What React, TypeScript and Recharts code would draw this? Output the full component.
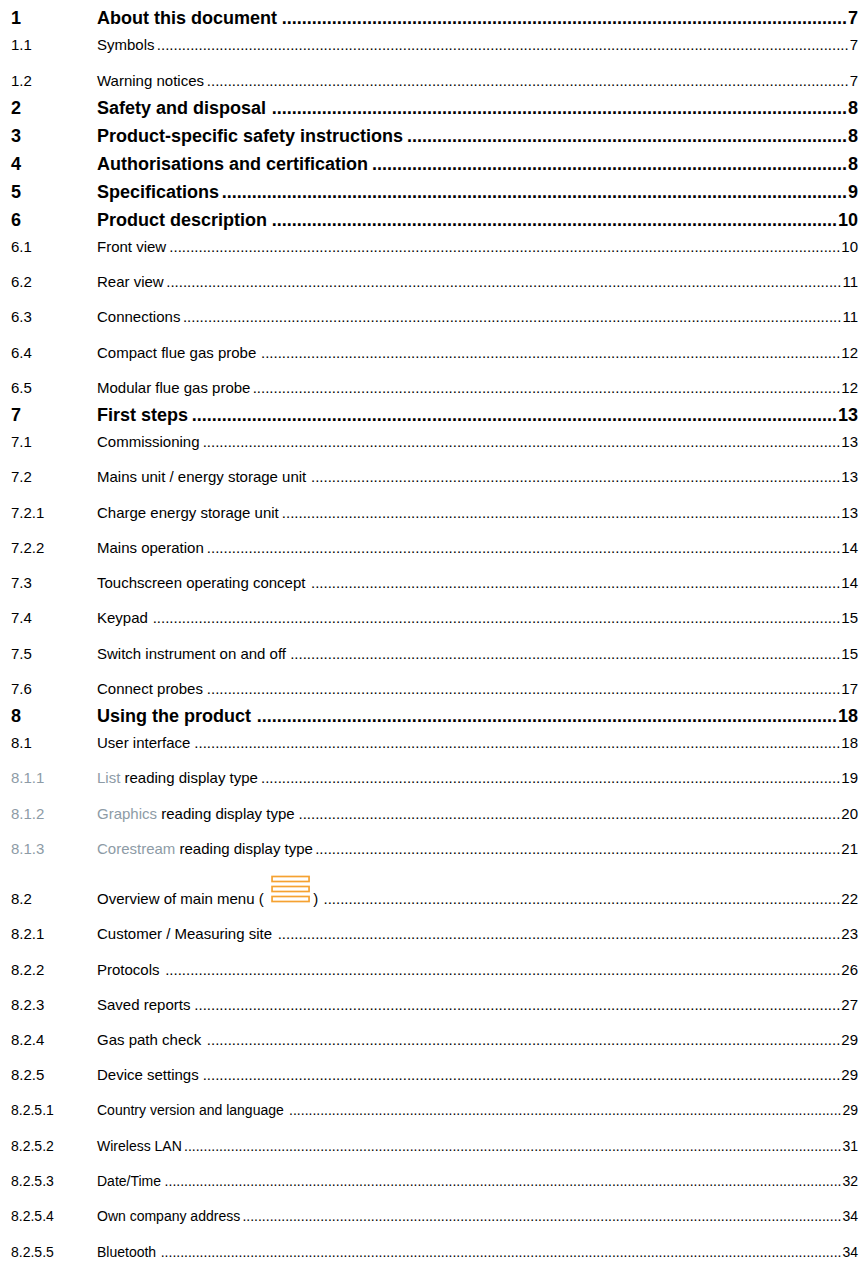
import React from "react"
import { ScatterChart, Scatter, XAxis, YAxis } from "recharts"

// table of contents entries
const sectionNumbers = [
  "1", "1.1", "1.2", "2", "3", "4", "5", "6", "6.1", "6.2", "6.3", "6.4", "6.5",
  "7", "7.1", "7.2", "7.2.1", "7.2.2", "7.3", "7.4", "7.5", "7.6",
  "8", "8.1", "8.1.1", "8.1.2", "8.1.3", "8.2", "8.2.1", "8.2.2", "8.2.3", "8.2.4", "8.2.5",
  "8.2.5.1", "8.2.5.2", "8.2.5.3", "8.2.5.4", "8.2.5.5",
]

const sectionTitles = [
  "About this document", "Symbols", "Warning notices", "Safety and disposal",
  "Product-specific safety instructions", "Authorisations and certification", "Specifications",
  "Product description", "Front view", "Rear view", "Connections", "Compact flue gas probe",
  "Modular flue gas probe", "First steps", "Commissioning", "Mains unit / energy storage unit",
  "Charge energy storage unit", "Mains operation", "Touchscreen operating concept", "Keypad",
  "Switch instrument on and off", "Connect probes", "Using the product", "User interface",
  "List reading display type", "Graphics reading display type", "Corestream reading display type",
  "Overview of main menu (", "Customer / Measuring site", "Protocols", "Saved reports",
  "Gas path check", "Device settings", "Country version and language", "Wireless LAN",
  "Date/Time", "Own company address", "Bluetooth",
]

const pageNumbers = [
  7, 7, 7, 8, 8, 8, 9, 10, 10, 11, 11, 12, 12,
  13, 13, 13, 13, 14, 14, 15, 15, 17,
  18, 18, 19, 20, 21, 22, 23, 26, 27, 29, 29,
  29, 31, 32, 34, 34,
]

// sections whose first word is a grey UI term
const greySections = ["8.1.1", "8.1.2", "8.1.3"]
// section with the menu icon in its title
const iconSection = "8.2"

const W = 867
const H = 1266
const FONT = "'Liberation Sans', Arial, sans-serif"
const NUM_X = 11
const TITLE_X = 97
const PAGE_RIGHT = 858
const GREY = "#8d9ba6"
const ORANGE = "#f5a231"

const levelOf = (n: string) => n.split(".").length
const sizeOf = (lvl: number) => (lvl === 1 ? 18 : lvl === 4 ? 14 : 15)

let ctx: CanvasRenderingContext2D | null = null
const measure = (text: string, font: string) => {
  if (!ctx) ctx = document.createElement("canvas").getContext("2d")
  if (!ctx) return text.length * 8
  ctx.font = font
  return ctx.measureText(text).width
}

// vertical layout: spacing depends on the level change between rows
const gapBetween = (prev: number, cur: number, num: string) => {
  if (num === iconSection) return 50
  if (prev === 1 && cur === 1) return 28
  if (prev === 1) return 27
  if (cur === 1) return 27
  return 35.3
}

const rows = (() => {
  let y = 18
  return sectionNumbers.map((num, i) => {
    const lvl = levelOf(num)
    if (i > 0) y += gapBetween(levelOf(sectionNumbers[i - 1]), lvl, num)
    return { x: NUM_X, y, num, title: sectionTitles[i], page: pageNumbers[i], lvl }
  })
})()

const Row = (props: any) => {
  const { cx, cy, payload } = props
  const { num, title, page, lvl } = payload
  const fs = sizeOf(lvl)
  const bold = lvl === 1
  const font = `${bold ? "bold " : ""}${fs}px ${FONT}`
  const base = cy + fs * 0.36
  const isGrey = greySections.includes(num)
  const hasIcon = num === iconSection
  const titleX = TITLE_X
  let titleEnd = titleX + measure(title, font)

  let iconEls: React.ReactNode = null
  if (hasIcon) {
    const ix = titleEnd + measure("  ", font)
    const iw = 37
    iconEls = (
      <g>
        {[0, 1, 2].map((k) => (
          <rect key={k} x={ix} y={cy - 22 + k * 10} width={iw} height={5} fill="none" stroke={ORANGE} strokeWidth={1.7} />
        ))}
        <text x={ix + iw + measure(" ", font)} y={base} fontSize={fs} fontFamily={FONT} fill="#000">)</text>
      </g>
    )
    titleEnd = ix + iw + measure(" )", font)
  }

  const pageStr = String(page)
  const pageW = measure(pageStr, font)
  const dotW = measure(".", font)
  const dotsEnd = PAGE_RIGHT - pageW - 1
  const n = Math.max(0, Math.floor((dotsEnd - titleEnd - 2) / dotW))
  const firstWord = title.split(" ")[0]
  const rest = title.slice(firstWord.length)

  return (
    <g fontFamily={FONT} fontSize={fs} fontWeight={bold ? "bold" : "normal"}>
      <text x={cx} y={base} fill={isGrey ? GREY : "#000"}>{num}</text>
      <text x={titleX} y={base} fill="#000">
        {isGrey ? (
          <>
            <tspan fill={GREY}>{firstWord}</tspan>
            <tspan>{rest}</tspan>
          </>
        ) : (
          title
        )}
      </text>
      {iconEls}
      <text x={dotsEnd} y={base} textAnchor="end" fill="#000">{".".repeat(n)}</text>
      <text x={PAGE_RIGHT} y={base} textAnchor="end" fill="#000">{pageStr}</text>
    </g>
  )
}

export default function App() {
  return (
    <div style={{ position: "absolute", left: 0, top: 0, width: W, height: H, background: "#fff" }}>
      <ScatterChart width={W} height={H} margin={{ top: 0, right: 0, bottom: 0, left: 0 }}>
        <XAxis type="number" dataKey="x" domain={[0, W]} hide />
        <YAxis type="number" dataKey="y" domain={[0, H]} reversed hide />
        <Scatter data={rows} shape={Row} isAnimationActive={false} />
      </ScatterChart>
    </div>
  )
}
